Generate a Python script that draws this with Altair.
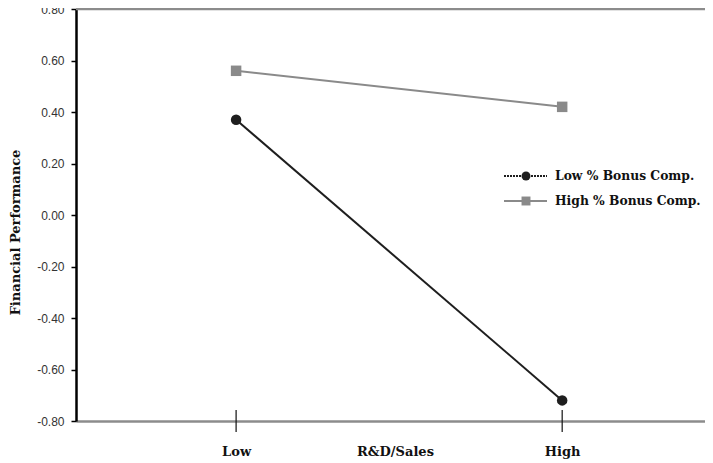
import altair as alt
import pandas as pd

# ---- data ----
rd_levels = ["Low", "High"]
rd_pos = [1, 2]
series_names = ["Low % Bonus Comp.", "High % Bonus Comp."]
low_bonus = [0.37, -0.72]
high_bonus = [0.56, 0.42]
y_ticks = [-0.8, -0.6, -0.4, -0.2, 0.0, 0.2, 0.4, 0.6, 0.8]
series_colors = ["#1e1e1e", "#8a8a8a"]
series_shapes = ["circle", "square"]

rows = []
for s, vals in zip(series_names, [low_bonus, high_bonus]):
    for lvl, p, v in zip(rd_levels, rd_pos, vals):
        rows.append({"series": s, "level": lvl, "x": p, "y": v})
df = pd.DataFrame(rows)

W, H = 629, 412
SERIF = "DejaVu Serif"
SANS = "Liberation Sans"

xscale = alt.Scale(domain=[0.509, 2.438], nice=False, zero=False)
yscale = alt.Scale(domain=[-0.8, 0.8], nice=False, zero=False)
cscale = alt.Scale(domain=series_names, range=series_colors)
sscale = alt.Scale(domain=series_names, range=series_shapes)

label_expr = " : ".join(
    [f"datum.value == {p} ? '{l}'" for p, l in zip(rd_pos[:-1], rd_levels[:-1])]
    + [f"'{rd_levels[-1]}'"]
)

x_axis = alt.Axis(
    values=rd_pos, labelExpr=label_expr, grid=False, ticks=False, tickSize=0,
    domainColor="#8c8c8c", domainWidth=2.5,
    labelFont=SERIF, labelFontWeight="bold", labelFontSize=13, labelColor="#111",
    labelPadding=30, labelBaseline="middle",
    title="R&D/Sales", titleFont=SERIF, titleFontWeight="bold", titleFontSize=13,
    titleColor="#111", titleY=30, titleX=319, titleBaseline="middle",
)
y_axis = alt.Axis(
    values=y_ticks, grid=False,
    labelExpr="(datum.value < 0 ? '-' : '') + format(abs(datum.value), '.2f')",
    domainColor="#000", domainWidth=2.5, tickColor="#000", tickSize=5, tickWidth=1.5,
    labelFont=SANS, labelFontSize=12, labelColor="#333", labelPadding=7,
    title="Financial Performance", titleFont=SERIF, titleFontWeight="bold",
    titleFontSize=13, titleColor="#111", titleX=-61, titleY=223,
    titleAlign="center", titleBaseline="middle",
)

base = alt.Chart(df)

lines = base.mark_line(strokeWidth=2).encode(
    x=alt.X("x:Q", scale=xscale, axis=x_axis),
    y=alt.Y("y:Q", scale=yscale, axis=y_axis),
    color=alt.Color("series:N", scale=cscale, legend=None),
    detail="series:N",
)
points = base.mark_point(filled=True, opacity=1, size=110).encode(
    x=alt.X("x:Q", scale=xscale),
    y=alt.Y("y:Q", scale=yscale),
    color=alt.Color("series:N", scale=cscale, legend=None),
    shape=alt.Shape("series:N", scale=sscale, legend=None),
)

top_line = alt.Chart(pd.DataFrame({"y": [y_ticks[-1]]})).mark_rule(
    color="#8c8c8c", strokeWidth=2.5
).encode(y=alt.Y("y:Q", scale=yscale))

ticks = alt.Chart(pd.DataFrame({"x": rd_pos})).mark_rule(
    color="#111", strokeWidth=1.2
).encode(
    x=alt.X("x:Q", scale=xscale),
    y=alt.value(H - 11),
    y2=alt.value(H + 11),
)

one = pd.DataFrame({"a": [0]})
legend_layers = []
leg_y = [167, 192]
dashes = [[2, 1], [1, 0]]
for name, col, shp, ly, dsh in zip(series_names, series_colors, series_shapes, leg_y, dashes):
    legend_layers.append(
        alt.Chart(one).mark_rule(color=col, strokeWidth=2, strokeDash=dsh).encode(
            x=alt.value(428), x2=alt.value(471), y=alt.value(ly)
        )
    )
    legend_layers.append(
        alt.Chart(one).mark_point(filled=True, opacity=1, size=80, shape=shp, color=col).encode(
            x=alt.value(450), y=alt.value(ly)
        )
    )
    legend_layers.append(
        alt.Chart(one).mark_text(
            text=name, align="left", baseline="middle", font=SERIF,
            fontWeight="bold", fontSize=12.3, color="#111"
        ).encode(x=alt.value(479), y=alt.value(ly))
    )

chart = alt.layer(top_line, lines, points, ticks, *legend_layers).properties(
    width=W, height=H,
    padding={"left": 68, "top": 1, "right": 0, "bottom": 42},
    autosize=alt.AutoSizeParams(type="none"),
).configure_view(stroke=None).configure(background="white")

chart.save("out.html", embed_options={"renderer": "svg", "actions": False})
